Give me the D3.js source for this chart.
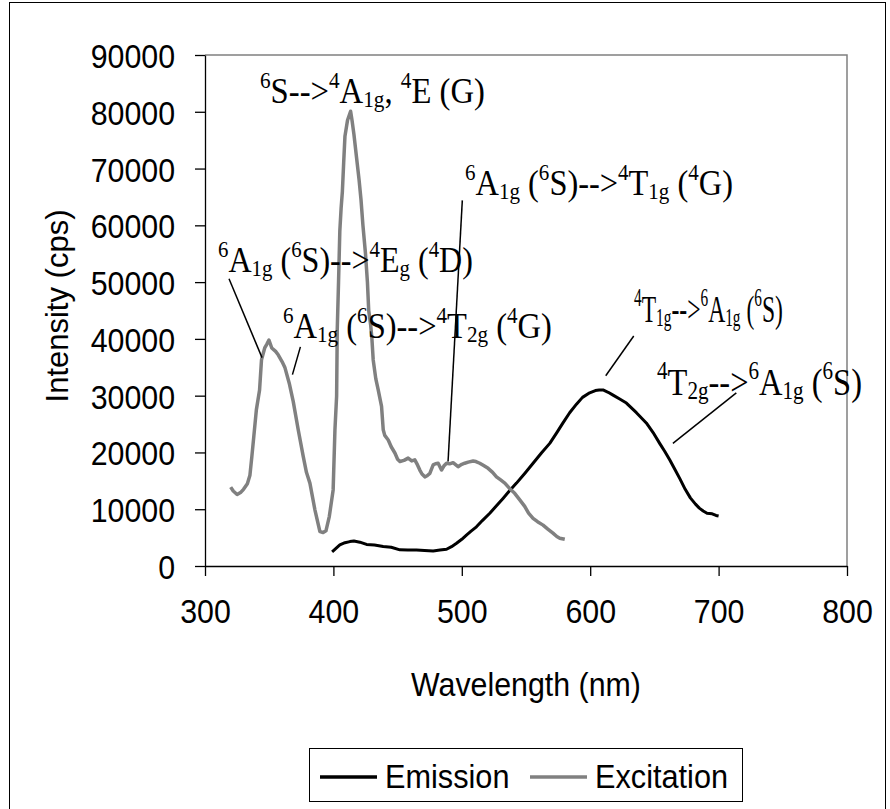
<!DOCTYPE html>
<html lang="en">
<head>
<meta charset="UTF-8" />
<title>Emission / Excitation spectra</title>
<script src="https://cdn.jsdelivr.net/npm/d3@7"></script>
<style>
  html, body { margin: 0; padding: 0; background: #fff; }
  svg { display: block; }
</style>
</head>
<body>
<div id="chart"></div>
<script>
/* values */
const excitationNm = [320, 322, 325, 328, 330, 333, 335, 336.5, 338, 340, 342.5, 344, 346.5, 348, 349.8, 352, 355, 357, 360,
  362.3, 365.6, 368.7, 372.6, 376.5, 379, 381.7, 385.6, 389.5, 392, 394.2, 396.8, 399.8, 401.2, 402.5, 403, 404, 405, 406,
  407, 408, 409, 411, 413.4, 414.5, 416, 418, 420, 421.5, 423, 425, 426.5, 427.5, 429, 430, 431, 433, 434.9, 437.5, 438.8,
  440, 442.7, 445, 447.9, 450, 451.8, 455, 458.2, 461, 463.4, 465.5, 467.3, 469, 471.2, 473, 475.1, 477.7, 479.5, 481.6,
  484.2, 486, 488.1, 490.5, 493.2, 497.1, 500, 502.3, 505, 508.8, 511, 514, 517, 520.5, 524, 527, 530, 533.5, 537, 541.2,
  545, 549, 552, 555.5, 559, 563.3, 567, 571, 574, 576.3, 580.2];
const excitationCps = [13900, 13200, 12600, 13000, 13500, 14500, 16000, 19300, 22800, 27500, 31000, 36300, 38400, 39000, 39800,
  38400, 37800, 37200, 36000, 34900, 32200, 29000, 24000, 19300, 16500, 14600, 9900, 6050, 5900, 6200, 8700, 13400, 24000,
  29900, 41600, 50000, 59000, 63000, 66000, 71000, 75700, 78500, 80100, 78500, 76000, 72000, 68000, 64500, 60000, 55000,
  50000, 45000, 42500, 40000, 36300, 33000, 31000, 28100, 24000, 23000, 22200, 21000, 19900, 18800, 18400, 18600, 19000,
  18500, 18700, 17800, 16900, 16200, 15700, 15900, 16300, 17800, 18000, 18100, 16900, 17600, 18100, 18000, 18200, 17500,
  17900, 18100, 18300, 18500, 18400, 18100, 17700, 17200, 16500, 15700, 15200, 14600, 13700, 12800, 11700, 10500, 9300,
  8400, 7800, 7200, 6500, 5800, 5200, 4900, 4700];

const emissionNm = [399, 402, 405, 409, 412.8, 416, 420.6, 425.8, 432, 438.8, 445, 451.8, 458, 464.7, 471, 477.7, 483, 488.1,
  492, 495.9, 500, 503.6, 507, 511.4, 516, 521.8, 527, 532.1, 537, 542.6, 549, 555.5, 562, 568.5, 574, 578.8, 584, 589.3,
  594, 599.6, 604, 607, 610, 614, 617.8, 623, 628.2, 636, 643.7, 649, 654.1, 658, 661.9, 666, 670, 674, 678, 682, 685, 688,
  691, 695, 698, 700];
const emissionCps = [2500, 3100, 3700, 4100, 4300, 4400, 4200, 3800, 3700, 3450, 3300, 2850, 2800, 2800, 2750, 2650, 2800,
  2950, 3400, 4000, 4700, 5450, 6100, 6900, 8000, 9300, 10600, 11900, 13200, 14600, 16300, 18100, 19900, 21600, 23500,
  25200, 27000, 28500, 29700, 30500, 30900, 31000, 31000, 30600, 30100, 29400, 28700, 27000, 25200, 23500, 21600, 20200,
  18700, 17000, 15300, 13500, 12000, 10900, 10200, 9700, 9300, 9200, 8900, 8800];

const xTicks = [300, 400, 500, 600, 700, 800];
const yTicks = [0, 10000, 20000, 30000, 40000, 50000, 60000, 70000, 80000, 90000];
const seriesNames = ['Emission', 'Excitation'];

// transition labels, "sup" = superscript, "sub" = subscript
const labelParts = [
  [['6','sup'],['S-->'],['4','sup'],['A'],['1g','sub'],[', '],['4','sup'],['E (G)']],
  [['6','sup'],['A'],['1g','sub'],[' ('],['6','sup'],['S)-->'],['4','sup'],['E'],['g','sub'],[' ('],['4','sup'],['D)']],
  [['6','sup'],['A'],['1g','sub'],[' ('],['6','sup'],['S)-->'],['4','sup'],['T'],['2g','sub'],[' ('],['4','sup'],['G)']],
  [['6','sup'],['A'],['1g','sub'],[' ('],['6','sup'],['S)-->'],['4','sup'],['T'],['1g','sub'],[' ('],['4','sup'],['G)']],
  [['4','sup'],['T'],['1g','sub'],['-->'],['6','sup'],['A'],['1g','sub'],[' ('],['6','sup'],['S)']],
  [['4','sup'],['T'],['2g','sub'],['-->'],['6','sup'],['A'],['1g','sub'],[' ('],['6','sup'],['S)']]
];
// leader lines, [nm, cps] -> [nm, cps]
const leaderFrom = [[318.7, 50600], [374.3, 38600], [500.4, 64400], [633.9, 40500], [713.8, 30500]];
const leaderTo   = [[344.4, 36700], [368.1, 33700], [489.3, 18400], [612.1, 33500], [664.4, 21600]];

/* layout */
const W = 890, H = 809;
const SANS = "'Liberation Sans', Arial, sans-serif";
const SERIF = "'Liberation Serif', 'Times New Roman', serif";
// label box: left x, baseline y, font size, drawn width
const labelBox = [
  [260, 103, 35, 225],
  [218, 272, 35, 255],
  [283, 338, 35, 269],
  [465, 195, 35, 268],
  [634, 322, 38, 149],
  [657, 395, 38, 205]
];

const svg = d3.select('#chart').append('svg').attr('width', W).attr('height', H);

svg.append('rect')
  .attr('x', 9.5).attr('y', 2.5).attr('width', 876).attr('height', 812)
  .attr('fill', 'none').attr('stroke', '#000').attr('stroke-width', 1);

const x = d3.scaleLinear().domain([300, 800]).range([205, 847]);
const y = d3.scaleLinear().domain([0, 90000]).range([566, 55]);

// grey frame of the plot area (top + right)
svg.append('path')
  .attr('d', `M${x(300)},${y(90000)}H${x(800)}V${y(0)}`)
  .attr('fill', 'none').attr('stroke', '#808080').attr('stroke-width', 1.5);

const gx = svg.append('g').attr('transform', `translate(0,${y(0)})`)
  .call(d3.axisBottom(x).tickValues(xTicks).tickSize(10).tickSizeOuter(0).tickFormat(d3.format('d')));
gx.attr('font-family', SANS).attr('font-size', 33);
gx.selectAll('line, path').attr('stroke', '#000').attr('stroke-width', 1.3);
gx.selectAll('text').attr('y', 57).attr('dy', null).attr('fill', '#000').attr('transform', 'scale(0.92,1)');

const gy = svg.append('g').attr('transform', `translate(${x(300)},0)`)
  .call(d3.axisLeft(y).tickValues(yTicks).tickSize(10).tickSizeOuter(0).tickFormat(d3.format('d')));
gy.attr('font-family', SANS).attr('font-size', 33);
gy.selectAll('line, path').attr('stroke', '#000').attr('stroke-width', 1.3);
gy.selectAll('text').attr('x', -32.6).attr('dy', '0.38em').attr('fill', '#000').attr('transform', 'scale(0.92,1)');

svg.append('text')
  .attr('transform', 'translate(526,696) scale(0.92,1)')
  .attr('text-anchor', 'middle').attr('font-family', SANS).attr('font-size', 33)
  .text('Wavelength (nm)');

svg.append('text')
  .attr('transform', 'translate(68,306) rotate(-90)')
  .attr('text-anchor', 'middle').attr('font-family', SANS).attr('font-size', 31)
  .text('Intensity (cps)');

// spectra
const line = d3.line().x(d => x(d[0])).y(d => y(d[1]));
svg.append('path')
  .datum(d3.zip(emissionNm, emissionCps))
  .attr('d', line).attr('fill', 'none')
  .attr('stroke', '#000').attr('stroke-width', 3).attr('stroke-linejoin', 'round');
svg.append('path')
  .datum(d3.zip(excitationNm, excitationCps))
  .attr('d', line).attr('fill', 'none')
  .attr('stroke', '#808080').attr('stroke-width', 3.5).attr('stroke-linejoin', 'round');

// leader lines
svg.append('g').selectAll('line')
  .data(d3.zip(leaderFrom, leaderTo))
  .join('line')
    .attr('x1', d => x(d[0][0])).attr('y1', d => y(d[0][1]))
    .attr('x2', d => x(d[1][0])).attr('y2', d => y(d[1][1]))
    .attr('stroke', '#000').attr('stroke-width', 1.5);

// transition labels with super/subscripts
function richLabel(parts, [px, py, fs, width]) {
  const g = svg.append('g').attr('transform', `translate(${px},${py})`);
  const t = g.append('text')
    .attr('font-family', SERIF).attr('font-size', fs)
    .style('white-space', 'pre');
  let shift = 0;
  parts.forEach(([s, kind]) => {
    const level = kind === 'sup' ? -0.43 * fs : kind === 'sub' ? 0.1 * fs : 0;
    const sp = t.append('tspan').attr('dy', level - shift).text(s);
    if (kind) sp.attr('font-size', fs * 0.65);
    shift = level;
  });
  const w = t.node().getComputedTextLength();
  g.attr('transform', `translate(${px},${py}) scale(${width / w},1)`);
}
labelParts.forEach((p, i) => richLabel(p, labelBox[i]));

// legend
const legend = svg.append('g');
legend.append('rect')
  .attr('x', 309.5).attr('y', 748.5).attr('width', 433).attr('height', 53)
  .attr('fill', '#fff').attr('stroke', '#000').attr('stroke-width', 1);
const legendColor = ['#000', '#808080'];
const legendX = [320, 530];
seriesNames.forEach((name, i) => {
  legend.append('line')
    .attr('x1', legendX[i]).attr('x2', legendX[i] + 57)
    .attr('y1', 777).attr('y2', 777)
    .attr('stroke', legendColor[i]).attr('stroke-width', 3.5);
  legend.append('text')
    .attr('transform', `translate(${legendX[i] + 65},788) scale(0.93,1)`)
    .attr('font-family', SANS).attr('font-size', 33)
    .text(name);
});
</script>
</body>
</html>
